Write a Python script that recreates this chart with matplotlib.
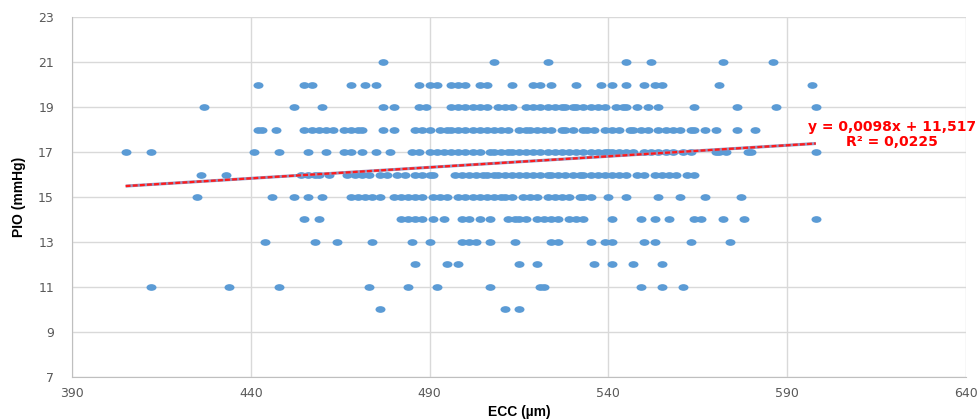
# plot.py - scatter of ECC vs PIO with a linear trendline (Excel-style)

import matplotlib
matplotlib.use("Agg")
import matplotlib.pyplot as plt
from matplotlib.path import Path
from matplotlib.transforms import Affine2D


# ECC values (um), one list per PIO level (mmHg)
ecc_pio_21 = [477, 508, 523, 545, 552, 572, 586]
ecc_pio_20 = [442, 455, 457, 468, 472, 475, 487, 490, 492, 496, 498, 500, 504, 506,
              513, 519, 521, 524, 531, 538, 541, 545, 550, 553, 555, 571, 597]
ecc_pio_19 = [427, 452, 460, 477, 480, 487, 489, 496, 498, 500, 502, 504, 506, 509,
              511, 513, 517, 519, 521, 523, 525, 527, 528, 530, 531, 533, 535, 537,
              539, 542, 544, 545, 548, 551, 554, 564, 576, 587, 598]
ecc_pio_18 = [442, 443, 447, 455, 457, 459, 461, 463, 466, 468, 470, 471, 477, 480,
              486, 488, 490, 493, 495, 496, 498, 500, 502, 504, 506, 508, 510, 512,
              515, 517, 518, 520, 522, 524, 527, 528, 530, 533, 534, 536, 539, 541,
              543, 546, 547, 549, 551, 554, 556, 558, 560, 563, 564, 567, 570, 576, 581]
ecc_pio_17 = [405, 412, 441, 448, 456, 461, 466, 468, 471, 475, 479, 485, 487, 490,
              492, 494, 496, 498, 500, 502, 504, 507, 508, 510, 512, 513, 515, 517,
              519, 521, 523, 525, 527, 529, 531, 533, 535, 537, 539, 540, 541, 543,
              545, 547, 550, 552, 554, 556, 558, 561, 563, 570, 571, 573, 579, 580, 598]
ecc_pio_16 = [426, 433, 454, 456, 458, 459, 462, 467, 469, 471, 473, 476, 478, 481,
              483, 486, 488, 490, 491, 497, 499, 501, 503, 505, 506, 508, 509, 511,
              513, 515, 517, 519, 521, 523, 524, 526, 528, 530, 532, 533, 535, 537,
              539, 541, 543, 545, 548, 550, 553, 555, 557, 559, 562, 564]
ecc_pio_15 = [425, 446, 452, 456, 460, 468, 470, 472, 474, 476, 480, 482, 484, 486,
              488, 491, 493, 495, 498, 500, 502, 504, 506, 508, 510, 511, 513, 516,
              518, 520, 523, 525, 527, 529, 532, 533, 535, 540, 545, 554, 560, 567, 577]
ecc_pio_14 = [455, 459, 482, 484, 486, 488, 491, 494, 499, 501, 504, 507, 512, 514,
              515, 517, 520, 522, 524, 526, 529, 531, 533, 541, 549, 553, 557, 564,
              566, 572, 578, 598]
ecc_pio_13 = [444, 458, 464, 474, 485, 490, 499, 501, 503, 507, 514, 524, 526, 535,
              539, 541, 550, 553, 563, 574]
ecc_pio_12 = [486, 495, 498, 515, 520, 536, 541, 547, 555]
ecc_pio_11 = [412, 434, 448, 473, 484, 492, 507, 521, 522, 549, 555, 561]
ecc_pio_10 = [476, 511, 515]

pio_levels = [21, 20, 19, 18, 17, 16, 15, 14, 13, 12, 11, 10]
ecc_rows = [ecc_pio_21, ecc_pio_20, ecc_pio_19, ecc_pio_18, ecc_pio_17, ecc_pio_16,
            ecc_pio_15, ecc_pio_14, ecc_pio_13, ecc_pio_12, ecc_pio_11, ecc_pio_10]

# Linear trendline as reported on the chart
trend_slope = 0.0098
trend_intercept = 11.517
trend_r2 = 0.0225
trend_x = [405, 598]

# Axis ticks
x_ticks = [390, 440, 490, 540, 590, 640]
y_ticks = [7, 9, 11, 13, 15, 17, 19, 21, 23]


# Flatten rows into x/y arrays
ecc = []
pio = []
for level, row in zip(pio_levels, ecc_rows):
    ecc.extend(row)
    pio.extend([level] * len(row))

# Excel markers come out slightly stretched sideways in the source picture
ellipse = Path.unit_circle().transformed(Affine2D().scale(1.0, 0.67))

fig = plt.figure(figsize=(9.8, 4.2), dpi=100)
ax = fig.add_axes([0.0735, 0.1024, 0.9122, 0.8571])

ax.scatter(ecc, pio, s=52, marker=ellipse, color="#5B9BD5", linewidths=0, zorder=3)

# Trendline: thin greyish base with red dashes on top
trend_y = [trend_slope * v + trend_intercept for v in trend_x]
ax.plot(trend_x, trend_y, color="#9a8fb8", lw=2.2, zorder=4, solid_capstyle="butt")
ax.plot(trend_x, trend_y, color="#ff1a1a", lw=1.6, ls=(0, (2.2, 1.0)), zorder=5)

eq_text = "y = {}x + {}".format(str(trend_slope).replace(".", ","),
                                str(trend_intercept).replace(".", ","))
r2_text = "R\u00b2 = {}".format(str(trend_r2).replace(".", ","))
ax.text(619.2, 18.1, eq_text, color="#ff0000", fontsize=10, fontweight="bold",
        ha="center", va="center", clip_on=False, zorder=6)
ax.text(619.2, 17.43, r2_text, color="#ff0000", fontsize=10, fontweight="bold",
        ha="center", va="center", clip_on=False, zorder=6)

# Axes, grid, labels
ax.set_xlim(390, 640)
ax.set_ylim(7, 23)
ax.set_xticks(x_ticks)
ax.set_yticks(y_ticks)
ax.grid(True, color="#d9d9d9", lw=1.0)
ax.set_axisbelow(True)
for side in ["top", "right"]:
    ax.spines[side].set_visible(False)
for side in ["left", "bottom"]:
    ax.spines[side].set_color("#bfbfbf")
ax.tick_params(axis="both", length=0, labelsize=9, labelcolor="#595959")
ax.tick_params(axis="y", pad=13)
ax.tick_params(axis="x", pad=7)

ax.set_xlabel("ECC (\u00b5m)", fontsize=10, fontweight="bold", family="Liberation Sans")
ax.xaxis.set_label_coords(0.5, -0.078)
ax.set_ylabel("PIO (mmHg)", fontsize=10, fontweight="bold", family="Liberation Sans")
ax.yaxis.set_label_coords(-0.052, 0.5)

fig.savefig("out.png", dpi=100)
